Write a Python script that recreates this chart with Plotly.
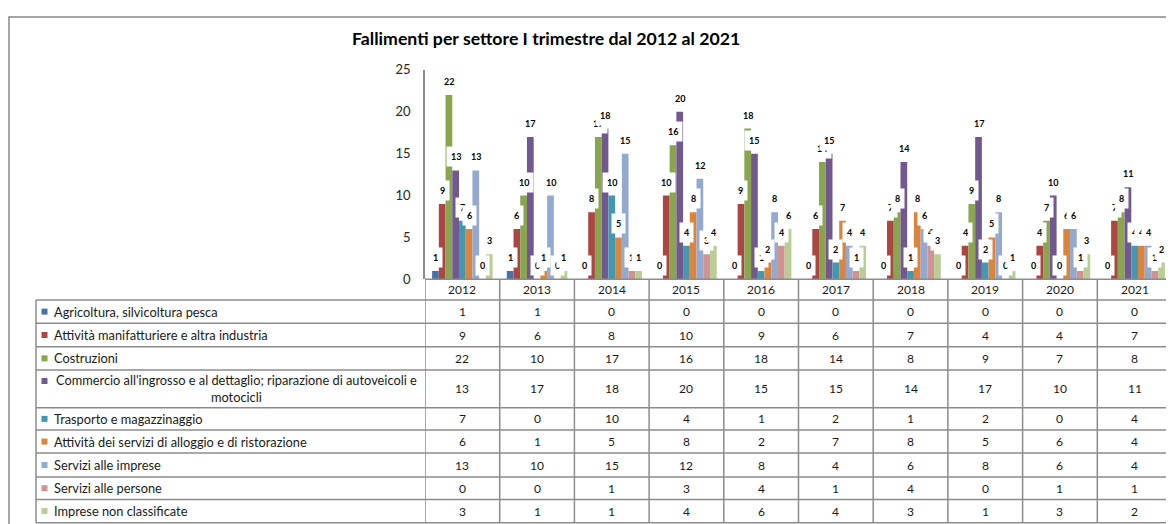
import plotly.graph_objects as go

# ---------------- data ----------------
years = ["2012", "2013", "2014", "2015", "2016", "2017", "2018", "2019", "2020", "2021"]

sectors = [
    "Agricoltura, silvicoltura pesca",
    "Attività manifatturiere e altra industria",
    "Costruzioni",
    "Commercio all'ingrosso e al dettaglio; riparazione di autoveicoli e<br>motocicli",
    "Trasporto e magazzinaggio",
    "Attività dei servizi di alloggio e di ristorazione",
    "Servizi alle imprese",
    "Servizi alle persone",
    "Imprese non classificate",
]

agricoltura = [1, 1, 0, 0, 0, 0, 0, 0, 0, 0]
manifatturiere = [9, 6, 8, 10, 9, 6, 7, 4, 4, 7]
costruzioni = [22, 10, 17, 16, 18, 14, 8, 9, 7, 8]
commercio = [13, 17, 18, 20, 15, 15, 14, 17, 10, 11]
trasporto = [7, 0, 10, 4, 1, 2, 1, 2, 0, 4]
alloggio = [6, 1, 5, 8, 2, 7, 8, 5, 6, 4]
servizi_imprese = [13, 10, 15, 12, 8, 4, 6, 8, 6, 4]
servizi_persone = [0, 0, 1, 3, 4, 1, 4, 0, 1, 1]
non_classificate = [3, 1, 1, 4, 6, 4, 3, 1, 3, 2]

series = [agricoltura, manifatturiere, costruzioni, commercio, trasporto,
          alloggio, servizi_imprese, servizi_persone, non_classificate]

colors = ["#4572A7", "#AA4643", "#89A54E", "#71588F", "#4198AF",
          "#DB843D", "#93A9CF", "#D19392", "#B9CD96"]

title_text = "Fallimenti per settore I trimestre dal 2012 al 2021"

# ---------------- layout helpers ----------------
W, H = 1174, 524
OFFX = 8
FONT = "Lato"
GRID = "#8c8c8c"
BARGAP = 0.19


def px(x):
    """target picture x -> paper fraction"""
    return (x - OFFX) / W


def py(t):
    """target picture y -> paper fraction (compensates page offset/scaling)"""
    fig_y = (t - 8.4) / 0.969 - 8
    return 1 - fig_y / H


PLOT_L, PLOT_R = 425, 1172
PLOT_T, PLOT_B = 70, 279.3
TABLE_L = 36
# row boundaries of the data table (target pixels): header + 9 sector rows
row_edges = [279.3, 300, 323.3, 346.7, 370, 407.7, 430, 453, 477, 499.3, 522.7]

xs = list(range(len(years)))
n = len(series)
bw = (1 - BARGAP) / n

fig = go.Figure()
for i, (vals, col) in enumerate(zip(series, colors)):
    fig.add_trace(go.Bar(
        x=xs, y=vals, marker=dict(color=col, line=dict(width=0)),
        name=sectors[i].replace("<br>", " "), showlegend=False,
        hoverinfo="y+name",
    ))

annotations = []
shapes = []

# data labels with white boxes
for i, vals in enumerate(series):
    for k, v in enumerate(vals):
        annotations.append(dict(
            x=k - (1 - BARGAP) / 2 + (i + 0.5) * bw, y=v, xref="x", yref="y",
            text=f"<b>{v}</b>", showarrow=False, yanchor="bottom", xanchor="center",
            yshift=3, bgcolor="white", borderpad=4,
            font=dict(family=FONT, size=9, color="#000000"),
        ))

# title
annotations.append(dict(
    x=px(546), y=py(39), xref="paper", yref="paper", text=f"<b>{title_text}</b>",
    showarrow=False, xanchor="center", yanchor="middle",
    font=dict(family=FONT, size=17.7, color="#000000"),
))

# table header (years)
hc = (row_edges[0] + row_edges[1]) / 2
for k, yr in enumerate(years):
    annotations.append(dict(
        x=k, y=py(hc), xref="x", yref="paper", text=yr, showarrow=False,
        xanchor="center", yanchor="middle",
        font=dict(family=FONT, size=12, color="#1a1a1a"),
    ))

# table rows
for i, (vals, col, name) in enumerate(zip(series, colors, sectors)):
    top, bot = row_edges[i + 1], row_edges[i + 2]
    c = (top + bot) / 2
    for k, v in enumerate(vals):
        annotations.append(dict(
            x=k, y=py(c), xref="x", yref="paper", text=str(v), showarrow=False,
            xanchor="center", yanchor="middle",
            font=dict(family=FONT, size=12, color="#1a1a1a"),
        ))
    if "<br>" in name:
        annotations.append(dict(
            x=px(236), y=py(c), xref="paper", yref="paper", text=name,
            showarrow=False, xanchor="center", yanchor="middle", align="center",
            font=dict(family=FONT, size=12.8, color="#1a1a1a"),
        ))
        sq = top + 11
    else:
        annotations.append(dict(
            x=px(52), y=py(c), xref="paper", yref="paper", text=name,
            showarrow=False, xanchor="left", yanchor="middle",
            font=dict(family=FONT, size=12.8, color="#1a1a1a"),
        ))
        sq = c
    shapes.append(dict(type="rect", xref="paper", yref="paper",
                       x0=px(41.5), x1=px(47.5), y0=py(sq + 3), y1=py(sq - 3),
                       fillcolor=col, line=dict(width=0)))

# table grid
for j in range(len(years) + 1):
    shapes.append(dict(type="line", xref="x", yref="paper",
                       x0=j - 0.5, x1=j - 0.5, y0=py(row_edges[0]), y1=py(row_edges[-1]),
                       line=dict(color=GRID, width=1.5)))
shapes.append(dict(type="line", xref="paper", yref="paper",
                   x0=px(PLOT_L), x1=px(PLOT_R), y0=py(row_edges[0]), y1=py(row_edges[0]),
                   line=dict(color=GRID, width=1.5)))
for e in row_edges[1:]:
    shapes.append(dict(type="line", xref="paper", yref="paper",
                       x0=px(TABLE_L), x1=px(PLOT_R), y0=py(e), y1=py(e),
                       line=dict(color=GRID, width=1.5)))
shapes.append(dict(type="line", xref="paper", yref="paper",
                   x0=px(TABLE_L), x1=px(TABLE_L), y0=py(row_edges[1]), y1=py(row_edges[-1]),
                   line=dict(color=GRID, width=1.5)))

# outer chart border (top edge kept just inside the figure)
shapes.append(dict(type="rect", xref="paper", yref="paper",
                   x0=px(9), x1=px(1200), y0=1 - 1 / H, y1=-0.2,
                   line=dict(color="#888888", width=1.5), fillcolor="rgba(0,0,0,0)"))

fig.update_layout(
    width=W, height=H, autosize=False,
    margin=dict(l=0, r=0, t=0, b=0),
    paper_bgcolor="white", plot_bgcolor="white",
    barmode="group", bargap=BARGAP, bargroupgap=0,
    showlegend=False,
    xaxis=dict(domain=[px(PLOT_L), px(PLOT_R)], range=[-0.5, len(years) - 0.5],
               showticklabels=False, showgrid=False, zeroline=False, showline=False,
               fixedrange=True),
    yaxis=dict(domain=[py(PLOT_B), py(PLOT_T)], range=[0, 25], tickvals=[0, 5, 10, 15, 20, 25],
               showgrid=False, zeroline=False, showline=True, linecolor=GRID, linewidth=1.5,
               ticks="", ticklabelstandoff=10,
               tickfont=dict(family=FONT, size=13, color="#262626"), fixedrange=True),
    annotations=annotations, shapes=shapes,
    font=dict(family=FONT),
)

fig.write_html("out.html")
